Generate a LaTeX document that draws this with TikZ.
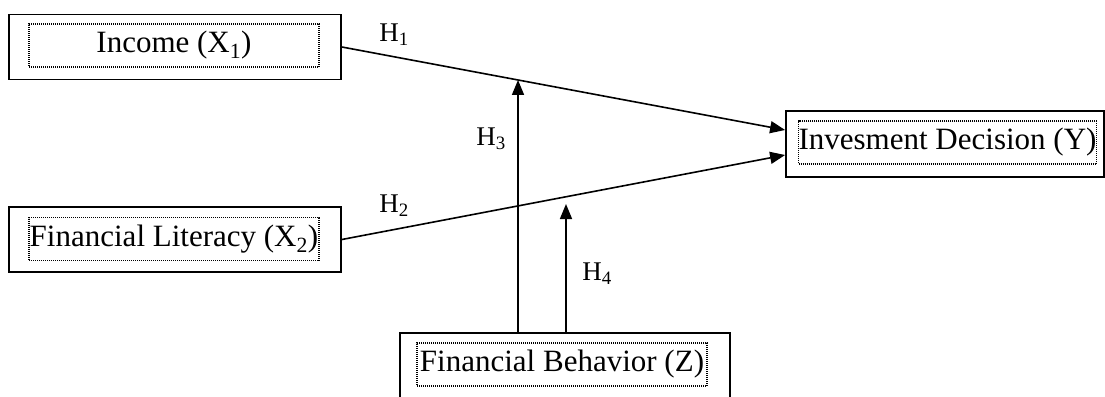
\documentclass[tikz,border=0pt]{standalone}
\usepackage{fontspec}
\setmainfont{Liberation Serif}
\usetikzlibrary{arrows.meta,calc}
\begin{document}
\begin{tikzpicture}[x=1pt,y=-1pt,
  outerbox/.style={draw,line width=1.8pt,minimum width=#1,minimum height=65pt,inner sep=0pt},
  innerbox/.style={draw,dash pattern=on 1pt off 1pt,line width=1.1pt,minimum width=#1,minimum height=43pt,inner sep=0pt,font=\fontsize{31}{34}\selectfont},
  conn/.style={line width=1.6pt,-{Triangle[length=15pt,width=12pt]}},
  hlabel/.style={font=\fontsize{27}{30}\selectfont,inner sep=0pt}]
\useasboundingbox (0,0) rectangle (1105,396);
\node[outerbox=332pt] (inc) at (175,47) {};
\node[innerbox=290pt] (inct) at (174,45.5) {Income (X\textsubscript{1})};
\node[outerbox=332pt] (lit) at (175,239.5) {};
\node[innerbox=290pt] (litt) at (174,239) {Financial Literacy (X\textsubscript{2})};
\node[outerbox=318pt,minimum height=66pt] (inv) at (945,144) {};
\node[innerbox=289pt] (invt) at (947.5,142.5) {Invesment Decision (Y)};
\node[outerbox=330pt,minimum height=70pt] (beh) at (565,368) {};
\node[innerbox=290pt] (beht) at (562,364.5) {Financial Behavior (Z)};
\coordinate (a1) at ($(inv.west)+(0,-14)$);
\coordinate (a2) at ($(inv.west)+(0,11)$);
\draw[conn] (inc.east) -- (a1);
\draw[conn] (lit.east) -- (a2);
\coordinate (v3a) at (518,0);
\coordinate (v3b) at (518,400);
\coordinate (h3top) at (intersection of inc.east--a1 and v3a--v3b);
\draw[conn] (h3top |- beh.north) -- (h3top);
\coordinate (h4top) at (566,204);
\draw[conn] (h4top |- beh.north) -- (h4top);
\node[hlabel] (h1) at (394,35) {H\textsubscript{1}};
\node[hlabel] (h2) at (394,206) {H\textsubscript{2}};
\node[hlabel] (h3) at (491,139) {H\textsubscript{3}};
\node[hlabel] (h4) at (597,274) {H\textsubscript{4}};
\end{tikzpicture}
\end{document}
